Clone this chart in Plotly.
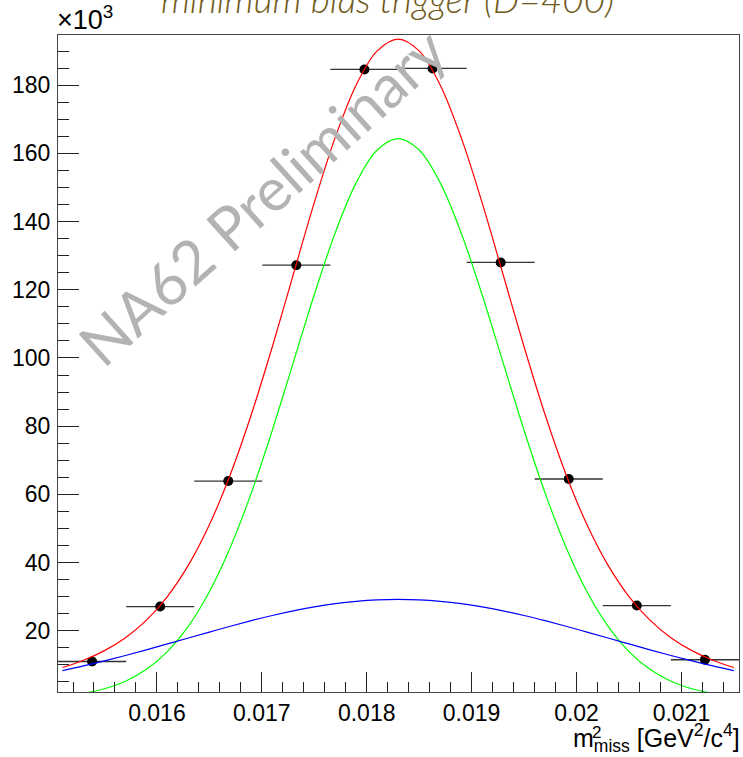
import plotly.graph_objects as go

# histogram data (values in units of 10^3)
bin_centers = [0.015382, 0.016031, 0.016680, 0.017329, 0.017978,
               0.018628, 0.019277, 0.019926, 0.020575, 0.021224]
counts = [11.0, 27.1, 63.9, 127.2, 184.6, 184.9, 128.0, 64.5, 27.4, 11.5]
half_bin = 0.0003245

# fit curves sampled (values in units of 10^3)
x_curve = [0.0151, 0.0153, 0.0155, 0.0157, 0.0159, 0.0161, 0.0163, 0.0165,
           0.0167, 0.0169, 0.0171, 0.0173, 0.0175, 0.0177, 0.0179, 0.0181,
           0.0183, 0.0185, 0.0187, 0.0189, 0.0191, 0.0193, 0.0195, 0.0197,
           0.0199, 0.0201, 0.0203, 0.0205, 0.0207, 0.0209, 0.0211, 0.0213,
           0.0215]
green_half = [0.885, 1.67, 3.01, 5.22, 8.70, 13.91, 21.35, 31.46, 44.51, 60.45,
              78.81, 98.65, 118.54, 136.73, 151.42, 160.98]
green_peak = [164.3]
blue_half = [8.33, 9.69, 11.17, 12.75, 14.42, 16.14, 17.89, 19.63, 21.34, 22.97,
             24.48, 25.83, 27.00, 27.94, 28.63, 29.06]
blue_peak = [29.2]
red_half = [9.22, 11.36, 14.18, 17.97, 23.12, 30.05, 39.24, 51.09, 65.85, 83.42,
            103.29, 124.48, 145.54, 164.67, 180.05, 190.04]
red_peak = [193.5]

green_vals = green_half + green_peak + green_half[::-1]
blue_vals = blue_half + blue_peak + blue_half[::-1]
red_vals = red_half + red_peak + red_half[::-1]

fig = go.Figure()

fig.add_trace(go.Scatter(
    x=bin_centers, y=counts, mode="markers",
    marker=dict(color="black", size=10),
    error_x=dict(type="constant", value=half_bin, width=0, thickness=1.3, color="#333333"),
    showlegend=False))

for vals, col in [(green_vals, "#00ff00"), (blue_vals, "#0000ff"), (red_vals, "#ff0000")]:
    fig.add_trace(go.Scatter(x=x_curve, y=vals, mode="lines",
                             line=dict(color=col, width=1.2, shape="spline"),
                             showlegend=False))

axis_font = dict(family="Liberation Sans, Arial, sans-serif", size=23, color="black")

fig.update_xaxes(range=[0.015057, 0.021549], showgrid=False, zeroline=False,
                 showline=True, linecolor="#444444", linewidth=1.3, mirror=True,
                 ticks="inside", ticklen=20, tickcolor="#222222", tickwidth=1.2,
                 tick0=0.016, dtick=0.001, tickfont=axis_font,
                 minor=dict(ticks="inside", ticklen=10, dtick=0.0002, tick0=0.016,
                            tickcolor="#222222", tickwidth=1.2, showgrid=False))
fig.update_yaxes(range=[2.05, 194.7], showgrid=False, zeroline=False,
                 showline=True, linecolor="#444444", linewidth=1.3, mirror=True,
                 ticks="inside", ticklen=21, tickcolor="#222222", tickwidth=1.2,
                 tick0=0, dtick=20, tickfont=axis_font, ticklabelstandoff=2,
                 minor=dict(ticks="inside", ticklen=11, dtick=5, tick0=0,
                            tickcolor="#222222", tickwidth=1.2, showgrid=False))

lab_font = dict(family="Liberation Sans, Arial, sans-serif", size=25, color="black")

fig.update_layout(
    width=743, height=757,
    margin=dict(l=58, r=4, t=35, b=65),
    plot_bgcolor="white", paper_bgcolor="white",
    annotations=[
        dict(text="×10<sup>3</sup>", xref="paper", yref="paper", x=0, y=1,
             xanchor="left", yanchor="bottom", showarrow=False, xshift=-3, yshift=-2,
             font=dict(family="Liberation Sans, Arial, sans-serif", size=27, color="black")),
        dict(text="<i>minimum bias trigger (D=400)</i>", xref="paper", yref="paper",
             x=0.4838, y=1, xanchor="center", yanchor="bottom", yshift=12, showarrow=False,
             font=dict(family="Lato, Open Sans, sans-serif", size=37, color="#6f5a1a", weight=300)),
        dict(text="m<sub>miss</sub> [GeV<sup>2</sup>/c<sup>4</sup>]",
             xref="paper", yref="paper", x=1, y=0, xanchor="right", yanchor="top",
             yshift=-26, xshift=3, showarrow=False, font=lab_font),
        dict(text="2", xref="paper", yref="paper", x=(590 - 58) / 681.3, y=0,
             xanchor="left", yanchor="top", yshift=-29, showarrow=False,
             font=dict(family="Liberation Sans, Arial, sans-serif", size=17, color="black")),
        dict(text="NA62 Preliminary", xref="paper", yref="paper", x=0.2996, y=0.755,
             xanchor="center", yanchor="middle", textangle=-42, showarrow=False,
             font=dict(family="Lato, Open Sans, sans-serif", size=60, color="#b3b3b3")),
    ])

fig.write_html("out.html")
